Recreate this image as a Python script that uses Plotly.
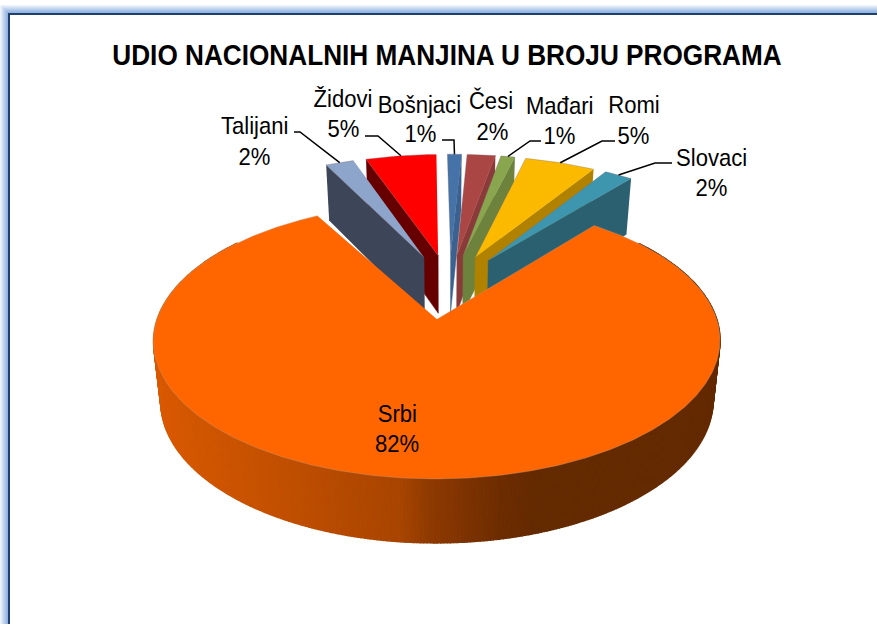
import numpy as np
import plotly.graph_objects as go

# ---- data -------------------------------------------------------------
categories = ["Bošnjaci", "Česi", "Mađari", "Romi", "Slovaci", "Srbi", "Talijani", "Židovi"]
shares = [1, 2, 1, 5, 2, 82, 2, 5]
title_text = "UDIO NACIONALNIH MANJINA U BROJU PROGRAMA"

# ---- style ------------------------------------------------------------
top_colors = {"Bošnjaci": "#4572A7", "Česi": "#AA4643", "Mađari": "#89A54E", "Romi": "#FBB900",
              "Slovaci": "#3D96AE", "Srbi": "#FF6600", "Talijani": "#8EA5CB", "Židovi": "#FF0000"}
wall_colors = {"Bošnjaci": "#3A618F", "Česi": "#8A3A38", "Mađari": "#6C823D", "Romi": "#B08200",
               "Slovaci": "#2A6070", "Talijani": "#3D4559", "Židovi": "#660000"}
paint_order = ["Židovi", "Talijani", "Bošnjaci", "Česi", "Mađari", "Romi", "Slovaci", "Srbi"]
FONT = "Liberation Sans, Arial"

label_pos = {"Talijani": (254, 125, 254, 156), "Židovi": (343, 98, 343, 128), "Bošnjaci": (419, 104, 420, 133),
             "Česi": (491, 100, 492, 131), "Mađari": (559, 105, 559, 135), "Romi": (634, 104, 633, 135),
             "Slovaci": (711, 157, 711, 187), "Srbi": (397, 413, 397, 443)}
leaders = {"Talijani": [(294, 132), (300, 132)], "Židovi": [(365, 136), (378, 136)], "Bošnjaci": [(442, 140), (454, 140)],
           "Mađari": [(541, 141), (530, 141)], "Romi": [(615, 141), (602, 141)], "Slovaci": [(672, 163), (655, 163)]}

# ---- projection of the tilted pie -------------------------------------
CX, CY, RX, RY, K, EXPLODE, ROT = 445.0, 286.0, 269.0, 124.6, 0.15, 0.258, -0.8
BACK_SHIFT = 4.5      # pixels: the rear slices sit slightly further right
SRBI_FORESHORTEN = 3.3  # degrees lost on the big slice's far edge by the 3-D view


def project(a, b):
    w = 1 + K * np.asarray(b)
    return CX + RX * np.asarray(a) / w, CY - RY * np.asarray(b) / w


def bottom(x, y):
    depth = 55 + 9 * (np.asarray(y) - 154) / (479 - 154)
    return CX + (np.asarray(x) - CX) * 0.975, np.asarray(y) + depth


total = sum(shares)
edges = np.cumsum([0] + shares) / total * 360 + ROT
geom = {}
for i, c in enumerate(categories):
    t0, t1 = np.radians(edges[i]), np.radians(edges[i + 1])
    tm = (t0 + t1) / 2
    oa, ob = EXPLODE * np.sin(tm), EXPLODE * np.cos(tm)
    t_end = t1 - np.radians(SRBI_FORESHORTEN) if c == "Srbi" else t1
    th = np.linspace(t0, t_end, max(8, int(shares[i] * 6)))
    dx = 0.0 if c == "Srbi" else BACK_SHIFT
    ax, ay = project(oa, ob)
    arcx, arcy = project(oa + np.sin(th), ob + np.cos(th))
    mx, my = project(oa + np.sin(tm), ob + np.cos(tm))
    geom[c] = dict(ax=float(ax) + dx, ay=float(ay), arcx=arcx + dx, arcy=arcy, mx=float(mx) + dx, my=float(my), tm=tm)

fig = go.Figure()


def poly(xs, ys, color, line=None, width=0.0, name=""):
    fig.add_trace(go.Scatter(x=list(xs), y=list(ys), mode="lines", fill="toself", fillcolor=color,
                             line=dict(color=line or color, width=width), hoverinfo="skip",
                             showlegend=False, name=name))


GRAD_X = [155, 300, 400, 430, 440, 500, 540, 725]
GRAD = np.array([[0xD9, 0x5A, 0x00], [0xBE, 0x4E, 0x00], [0xA8, 0x45, 0x00], [0x8E, 0x3A, 0x00],
                 [0x8A, 0x38, 0x00], [0x6E, 0x2D, 0x00], [0x64, 0x2A, 0x00], [0x64, 0x2A, 0x00]])


def grad(x):
    return "rgb(%d,%d,%d)" % tuple(np.interp(x, GRAD_X, GRAD[:, k]) for k in range(3))


for c in paint_order:
    g = geom[c]
    if c == "Srbi":
        xs, ys = g["arcx"], g["arcy"]
        bx, by = bottom(xs, ys)
        visible = np.where(by > 300)[0]
        for j in visible[:-1]:
            if j + 1 < len(xs):
                poly([xs[j], xs[j + 1], bx[j + 1], bx[j]], [ys[j], ys[j + 1], by[j + 1], by[j]],
                     grad((xs[j] + xs[j + 1]) / 2), width=1.5, name="Srbi bok")
    else:
        ex, ey = (g["arcx"][0], g["arcy"][0]) if g["tm"] > np.pi else (g["arcx"][-1], g["arcy"][-1])
        bex, bey = bottom(ex, ey)
        bax, bay = bottom(g["ax"], g["ay"])
        poly([ex, g["ax"], bax, bex], [ey, g["ay"], bay, bey], wall_colors[c], width=0.5, name=c + " bok")
    edge = "rgba(185,150,125,0.7)" if c == "Srbi" else "rgba(125,105,115,0.55)"
    poly([g["ax"], *g["arcx"]], [g["ay"], *g["arcy"]], top_colors[c], line=edge, width=0.6, name=c)

for c, pts in leaders.items():
    xs = [p[0] for p in pts] + [geom[c]["mx"]]
    ys = [p[1] for p in pts] + [geom[c]["my"]]
    fig.add_trace(go.Scatter(x=xs, y=ys, mode="lines", line=dict(color="#000000", width=1.5),
                             hoverinfo="skip", showlegend=False))

shapes = []
glow = ["#EEF4FB", "#E0EAF7", "#D2E1F3", "#C4D7EF", "#B6CDEB", "#A9C4E8", "#9DBBE4", "#93B3E0"]
for i, col in enumerate(glow):
    shapes.append(dict(type="rect", xref="x", yref="y", x0=i + 1, x1=877, y0=5 + i, y1=6 + i,
                       fillcolor=col, line_width=0, layer="below"))
    shapes.append(dict(type="rect", xref="x", yref="y", x0=i, x1=i + 1, y0=5 + i, y1=624,
                       fillcolor=col, line_width=0, layer="below"))
shapes.append(dict(type="rect", xref="x", yref="y", x0=8, x1=877, y0=13, y1=15, fillcolor="#1F3F6E", line_width=0, layer="below"))
shapes.append(dict(type="rect", xref="x", yref="y", x0=8, x1=10, y0=13, y1=624, fillcolor="#1F3F6E", line_width=0, layer="below"))

annotations = []
for i, c in enumerate(categories):
    nx, ny, px, py = label_pos[c]
    annotations.append(dict(x=nx, y=ny, text=c, showarrow=False, xanchor="center", yanchor="middle",
                            font=dict(family=FONT, size=24, color="#000000")))
    annotations.append(dict(x=px, y=py, text=f"{shares[i]}%", showarrow=False, xanchor="center", yanchor="middle",
                            font=dict(family=FONT, size=24, color="#000000")))

fig.update_layout(
    width=877, height=624, margin=dict(l=0, r=0, t=0, b=0), paper_bgcolor="#FFFFFF", plot_bgcolor="#FFFFFF",
    title=dict(text=f"<b>{title_text}</b>", x=447 / 877, y=1 - 55 / 624, xanchor="center", yanchor="middle",
               font=dict(family=FONT, size=30, color="#000000")),
    xaxis=dict(range=[0, 877], visible=False, fixedrange=True),
    yaxis=dict(range=[624, 0], visible=False, fixedrange=True),
    shapes=shapes, annotations=annotations, showlegend=False,
)
# no page margin; narrow the Arial-Narrow-like text horizontally
post = """
document.body.style.margin = '0';
document.querySelectorAll('.main-svg text').forEach(function (t) {
  var s = t.closest('.g-gtitle') ? 0.873 : 0.92;
  var b = t.getBBox(), c = b.x + b.width / 2, p = t.getAttribute('transform') || '';
  t.setAttribute('transform', p + ' translate(' + c + ' 0) scale(' + s + ' 1) translate(' + (-c) + ' 0)');
});
"""
fig.write_html("out.html", config={"displayModeBar": False}, post_script=post)
